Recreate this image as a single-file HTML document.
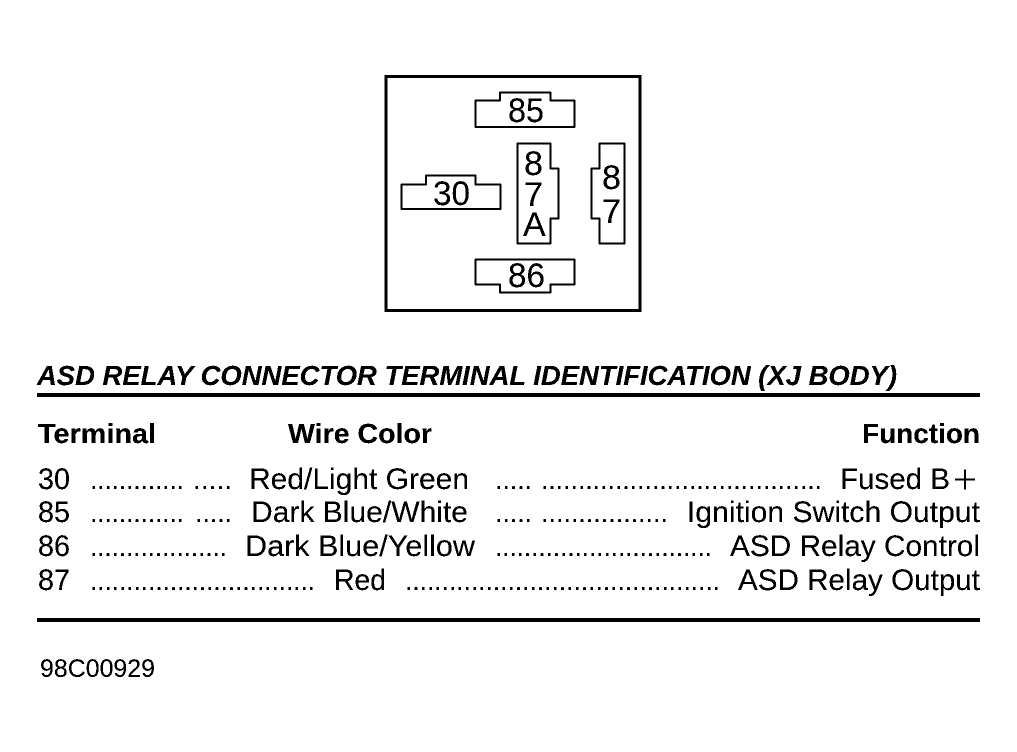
<!DOCTYPE html>
<html>
<head>
<meta charset="utf-8">
<style>
html,body{margin:0;padding:0;background:#fff;width:1017px;height:752px;overflow:hidden}
svg{display:block}
text{font-family:"Liberation Sans",sans-serif;fill:#000;white-space:pre}
.t{font-size:30px;-webkit-text-stroke:.45px #000}
.d{font-size:26px;-webkit-text-stroke:.5px #000}
.h{font-size:28px;font-weight:bold;-webkit-text-stroke:.6px #000}
.n{font-size:34px}
</style>
</head>
<body>
<svg width="1017" height="752" viewBox="0 0 1017 752" xmlns="http://www.w3.org/2000/svg">
<defs>
<filter id="bw" x="0" y="0" width="1017" height="752" filterUnits="userSpaceOnUse" color-interpolation-filters="sRGB">
<feComponentTransfer><feFuncA type="discrete" tableValues="0 1 1"/></feComponentTransfer>
</filter>
</defs>
<rect x="0" y="0" width="1017" height="752" fill="#fff"/>
<g filter="url(#bw)">
<rect x="386" y="76.5" width="254" height="234" fill="none" stroke="#000" stroke-width="3"/>
<g fill="none" stroke="#000" stroke-width="1.4">
<path d="M475.5 100.5H500V92.5H550.5V100.5H574.5V127H475.5Z"/>
<path d="M401.5 184.5H426V175.5H475.5V184.5H500.5V209H401.5Z"/>
<path d="M475.5 259.5H574.5V284.5H550.5V292.5H500V284.5H475.5Z"/>
<path d="M517.5 143.5H550.5V168.5H558.5V218.5H550.5V243.5H517.5Z"/>
<path d="M599.5 143.5H624.5V243.5H599.5V218.5H591.5V168.5H599.5Z"/>
</g>
<text class="n" x="508" y="122" textLength="36" lengthAdjust="spacingAndGlyphs">85</text>
<text class="n" x="433" y="205" textLength="37" lengthAdjust="spacingAndGlyphs">30</text>
<text class="n" x="508" y="287" textLength="37" lengthAdjust="spacingAndGlyphs">86</text>
<text class="n" x="524" y="175">8</text>
<text class="n" x="524" y="206">7</text>
<text class="n" x="523" y="236">A</text>
<text class="n" x="602" y="189">8</text>
<text class="n" x="602" y="223">7</text>

<text x="37" y="385" font-size="28" font-weight="bold" font-style="italic" textLength="860" lengthAdjust="spacingAndGlyphs" style="-webkit-text-stroke:.8px #000">ASD RELAY CONNECTOR TERMINAL IDENTIFICATION (XJ BODY)</text>
<rect x="37" y="393" width="943" height="4" fill="#000"/>

<text class="h" x="38" y="443" textLength="118" lengthAdjust="spacingAndGlyphs">Terminal</text>
<text class="h" x="288" y="443" textLength="144" lengthAdjust="spacingAndGlyphs">Wire Color</text>
<text class="h" x="862" y="443" textLength="118" lengthAdjust="spacingAndGlyphs">Function</text>

<text class="t" x="38" y="489" textLength="32" lengthAdjust="spacingAndGlyphs">30</text>
<text class="d" x="90" y="489" textLength="94">.............</text>
<text class="d" x="193" y="489" textLength="39">.....</text>
<text class="t" x="249" y="489" textLength="220" lengthAdjust="spacingAndGlyphs">Red/Light Green</text>
<text class="d" x="495" y="489" textLength="37">.....</text>
<text class="d" x="541" y="489" textLength="281">......................................</text>
<text class="t" x="840" y="489" textLength="110" lengthAdjust="spacingAndGlyphs">Fused B</text>
<path d="M955 479.5H975M965 469.5V489.5" stroke="#000" stroke-width="1.5" fill="none"/>

<text class="t" x="38" y="522" textLength="32" lengthAdjust="spacingAndGlyphs">85</text>
<text class="d" x="90" y="522" textLength="94">.............</text>
<text class="d" x="195" y="522" textLength="37">.....</text>
<text class="t" x="251" y="522" textLength="217" lengthAdjust="spacingAndGlyphs">Dark Blue/White</text>
<text class="d" x="495" y="522" textLength="37">.....</text>
<text class="d" x="541" y="522" textLength="127">.................</text>
<text class="t" x="687" y="522" textLength="293" lengthAdjust="spacingAndGlyphs">Ignition Switch Output</text>

<text class="t" x="38" y="556" textLength="32" lengthAdjust="spacingAndGlyphs">86</text>
<text class="d" x="90" y="556" textLength="137">...................</text>
<text class="t" x="245" y="556" textLength="230" lengthAdjust="spacingAndGlyphs">Dark Blue/Yellow</text>
<text class="d" x="495" y="556" textLength="217">..............................</text>
<text class="t" x="730" y="556" textLength="250" lengthAdjust="spacingAndGlyphs">ASD Relay Control</text>

<text class="t" x="38" y="590" textLength="32" lengthAdjust="spacingAndGlyphs">87</text>
<text class="d" x="90" y="590" textLength="225">...............................</text>
<text class="t" x="334" y="590" textLength="52" lengthAdjust="spacingAndGlyphs">Red</text>
<text class="d" x="405" y="590" textLength="315">...........................................</text>
<text class="t" x="738" y="590" textLength="242" lengthAdjust="spacingAndGlyphs">ASD Relay Output</text>

<rect x="37" y="618" width="943" height="4" fill="#000"/>
<text x="40" y="677" font-size="25" textLength="115" lengthAdjust="spacingAndGlyphs">98C00929</text>
</g>
</svg>
</body>
</html>
